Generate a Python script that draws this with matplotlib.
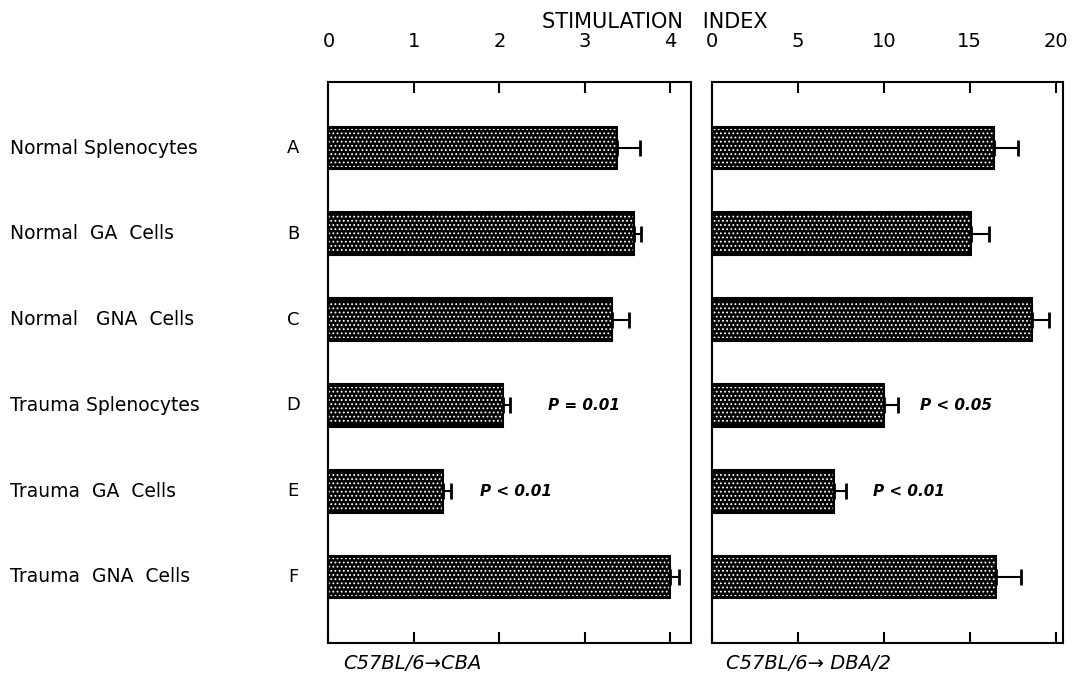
import numpy as np
import matplotlib
matplotlib.use("Agg")
import matplotlib.pyplot as plt
from matplotlib.transforms import blended_transform_factory

# -----------------------------
# Data
# -----------------------------
groups = ["Normal Splenocytes", "Normal  GA  Cells", "Normal   GNA  Cells",
          "Trauma Splenocytes", "Trauma  GA  Cells", "Trauma  GNA  Cells"]
letters = ["A", "B", "C", "D", "E", "F"]

cba_mean = [3.37, 3.58, 3.32, 2.04, 1.34, 3.99]
cba_err = [0.28, 0.08, 0.19, 0.08, 0.09, 0.11]

dba_mean = [16.4, 15.1, 18.6, 10.0, 7.1, 16.5]
dba_err = [1.4, 1.0, 1.0, 0.8, 0.7, 1.5]

cba_ticks = [0, 1, 2, 3, 4]
dba_ticks = [0, 5, 10, 15, 20]

cba_notes = {3: "P = 0.01", 4: "P < 0.01"}
dba_notes = {3: "P < 0.05", 4: "P < 0.01"}

plt.rcParams['font.family'] = ['DejaVu Sans']
plt.rcParams['hatch.linewidth'] = 0.8

fig = plt.figure(figsize=(10.73, 6.77), dpi=100)
ax1 = fig.add_axes([0.3061, 0.0502, 0.3378, 0.8287])
ax2 = fig.add_axes([0.6638, 0.0502, 0.3272, 0.8287])

y = np.arange(len(groups))


def draw_panel(ax, means, errs, ticks, xmax, notes, note_x, label):
    # black bar, white dotted overlay, black frame
    ax.barh(y, means, height=0.5, color="black", edgecolor="black", linewidth=1.2)
    ax.barh(y, means, height=0.44, fill=False, hatch="....", edgecolor="white", linewidth=0)
    ax.barh(y, means, height=0.5, fill=False, edgecolor="black", linewidth=1.5)
    ax.errorbar(means, y, xerr=[np.zeros(len(errs)), errs], fmt="none",
                ecolor="black", elinewidth=1.5, capsize=6, capthick=2)
    ax.set_xlim(0, xmax)
    ax.set_ylim(5.77, -0.77)
    ax.set_yticks([])
    ax.set_xticks(ticks)
    ax.xaxis.set_ticks_position("both")
    ax.tick_params(axis="x", direction="in", length=8, width=1.5,
                   labeltop=True, labelbottom=False, labelsize=14, pad=22)
    for s in ax.spines.values():
        s.set_linewidth(1.5)
    for i, txt in notes.items():
        ax.text(note_x[i], y[i], txt, fontsize=11, fontstyle="italic",
                fontweight="bold", va="center", ha="left")
    ax.text(0.04, -0.036, label, transform=ax.transAxes, fontsize=14,
            fontstyle="italic", va="center", ha="left")


draw_panel(ax1, cba_mean, cba_err, cba_ticks, 4.24, cba_notes,
           {3: 2.57, 4: 1.77}, "C57BL/6\u2192CBA")
draw_panel(ax2, dba_mean, dba_err, dba_ticks, 20.45, dba_notes,
           {3: 12.1, 4: 9.37}, "C57BL/6\u2192 DBA/2")

# row labels
tr = blended_transform_factory(fig.transFigure, ax1.transData)
for i, (g, l) in enumerate(zip(groups, letters)):
    fig.text(0.009, y[i], g, transform=tr, fontsize=13.5, va="center", ha="left")
    fig.text(0.273, y[i], l, transform=tr, fontsize=13, va="center", ha="center")

fig.text(0.61, 0.967, "STIMULATION   INDEX", fontsize=15, ha="center", va="center")

fig.savefig("out.png", dpi=100)
